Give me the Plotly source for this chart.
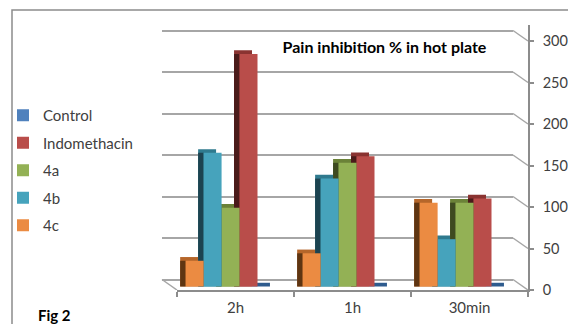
import plotly.graph_objects as go

# ---- data ----
categories = ["2h", "1h", "30min"]
series_names = ["4c", "4b", "4a", "Indomethacin", "Control"]  # left-to-right in each group
values_4c = [31, 40, 101]
values_4b = [161, 130, 57]
values_4a = [95, 149, 101]
values_indomethacin = [280, 157, 106]
values_control = [0, 0, 0]
y_ticks = [0, 50, 100, 150, 200, 250, 300]

series_values = [values_4c, values_4b, values_4a, values_indomethacin, values_control]

# ---- styles ----
front_colors = ["#EB8B42", "#46A3BC", "#93B155", "#B94D4A", "#4F81BD"]
top_colors = ["#B5662A", "#2F7A8E", "#6B8238", "#8A3331", "#2E5B8E"]
side_colors = ["#5E3512", "#1C4350", "#3E4A20", "#4A1B1A", "#1F3D63"]

FONT = "Lato"
TXT = "#404040"
GRID = "#A6A6A6"

group_start = -0.426   # category units
bar_w = 0.1535
depth_x = 0.047        # category units
depth_y = 4.5          # value units

# page body has an 8px margin; figure is drawn 8px smaller and shifted
W, H = 568, 316
ML, MT = 154, 17
PW, PH = 366, 265
MR = W - ML - PW
MB = H - MT - PH

fig = go.Figure()

# dummy trace for back-wall grid subplot
fig.add_trace(go.Scatter(x=[], y=[], xaxis="x", yaxis="y", showlegend=False, hoverinfo="skip"))

order = list(range(len(series_names)))[::-1]  # Control first (legend order)
# top faces
for i in order:
    name, vals = series_names[i], series_values[i]
    fig.add_trace(go.Bar(
        x=categories, y=[v + depth_y for v in vals], base=0,
        offset=group_start + i * bar_w - depth_x, width=bar_w,
        marker=dict(color=top_colors[i], line=dict(width=0)),
        xaxis="x2", yaxis="y2", legendgroup=name, showlegend=False, hoverinfo="skip"))
# side faces
for i in order:
    name, vals = series_names[i], series_values[i]
    fig.add_trace(go.Bar(
        x=categories, y=vals, base=0,
        offset=group_start + i * bar_w - depth_x, width=depth_x,
        marker=dict(color=side_colors[i], line=dict(width=0)),
        xaxis="x2", yaxis="y2", legendgroup=name, showlegend=False, hoverinfo="skip"))
# front faces
for rank, i in enumerate(order):
    name, vals = series_names[i], series_values[i]
    fig.add_trace(go.Bar(
        x=categories, y=vals, name=name,
        offset=group_start + i * bar_w, width=bar_w,
        marker=dict(color=front_colors[i], line=dict(width=0)),
        xaxis="x2", yaxis="y2", legendgroup=name, legendrank=rank + 1, showlegend=True))

# dummy trace for the labelled value axis
fig.add_trace(go.Scatter(x=[], y=[], xaxis="x2", yaxis="y3", showlegend=False, hoverinfo="skip"))

PX_PER_UNIT = 0.83
label_max = PH / PX_PER_UNIT
grid_shift = 10.5 / PX_PER_UNIT
bar_shift = 3.5 / PX_PER_UNIT
front_frac = 15 / PW

shapes = []
for v in y_ticks:
    shapes.append(dict(type="line", xref="paper", yref="y",
                       x0=1 - front_frac, y0=v, x1=1, y1=v - grid_shift,
                       line=dict(color=GRID, width=1.5), layer="below"))
shapes.append(dict(type="line", xref="paper", yref="y",
                   x0=0, y0=0, x1=front_frac, y1=-grid_shift,
                   line=dict(color=GRID, width=1.5), layer="below"))
# outer frame
shapes.append(dict(type="rect", xref="paper", yref="paper",
                   x0=(4 - ML) / PW, y0=(MT + PH - 2) / PH, x1=1.4, y1=-0.4,
                   line=dict(color="#8C8C8C", width=1.5), fillcolor="rgba(0,0,0,0)"))

fig.update_layout(
    width=W, height=H, autosize=False,
    margin=dict(l=ML, r=MR, t=MT, b=MB, pad=0, autoexpand=False),
    paper_bgcolor="white", plot_bgcolor="rgba(0,0,0,0)",
    barmode="overlay",
    font=dict(family=FONT, size=15, color=TXT),
    title=dict(text="<b>Pain inhibition % in hot plate</b>", x=376.5 / W, y=1 - 39 / H,
               xref="container", yref="container", xanchor="center", yanchor="middle",
               font=dict(family=FONT, size=16, color="#000000")),
    xaxis=dict(domain=[0, 1 - front_frac], range=[0, 1], visible=False),
    yaxis=dict(domain=[0, 1], range=[-grid_shift, label_max - grid_shift], tick0=0, dtick=50,
               showgrid=True, gridcolor=GRID, gridwidth=1.5, zeroline=False,
               showticklabels=False, ticks="", showline=False, fixedrange=True),
    xaxis2=dict(domain=[front_frac, 1], anchor="y2", type="category", range=[-0.5, 2.5],
                showline=True, linecolor="#8C8C8C", linewidth=1.5,
                ticks="outside", tickson="boundaries", ticklen=5, tickcolor="#8C8C8C", tickwidth=1.5,
                showgrid=False, tickfont=dict(family=FONT, size=15, color=TXT), ticklabelstandoff=3),
    yaxis2=dict(domain=[0, 1], anchor="x2", range=[-bar_shift, label_max - bar_shift], visible=False),
    yaxis3=dict(overlaying="y2", anchor="x2", side="right", range=[0, label_max],
                tick0=0, dtick=50, showgrid=False, zeroline=False,
                showline=True, linecolor="#8C8C8C", linewidth=1.5,
                ticks="outside", ticklen=4, tickcolor="#8C8C8C", tickwidth=1.5,
                tickfont=dict(family=FONT, size=14.5, color=TXT), ticklabelstandoff=6),
    legend=dict(xref="paper", yref="container", x=(-5 - ML) / PW, y=1 - 91 / H,
                xanchor="left", yanchor="top", traceorder="grouped",
                tracegroupgap=5, bgcolor="rgba(0,0,0,0)",
                font=dict(family=FONT, size=15, color=TXT)),
    shapes=shapes,
    annotations=[dict(text="<b>Fig 2</b>", xref="paper", yref="paper",
                      x=(28 - ML) / PW, y=(MT + PH - 307) / PH, xanchor="left", yanchor="middle",
                      showarrow=False, font=dict(family=FONT, size=15, color="#000000"))],
)

fig.write_html("out.html")
